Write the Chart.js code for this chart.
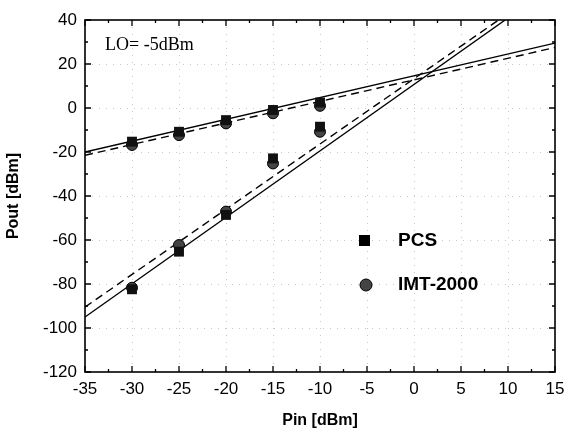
<!DOCTYPE html>
<html><head><meta charset="utf-8">
<script src="https://cdn.jsdelivr.net/npm/chart.js@4/dist/chart.umd.min.js"></script>
<style>html,body{margin:0;padding:0;background:#fff}canvas{display:block}</style>
</head><body>
<canvas id="c" width="566" height="433"></canvas>
<script>
// ---- data ----
const pinLevels = [-30, -25, -20, -15, -10];
const pcsFund   = [-15.3, -10.8, -5.5, -0.9, 2.5];
const pcsIM3    = [-82.4, -65.3, -48.6, -22.9, -8.5];
const imtFund   = [-16.8, -12.3, -7.0, -2.4, 1.0];
const imtIM3    = [-81.7, -62.3, -47.1, -25.2, -10.8];
// fitted lines (end points)
const solidFundX = [-35, 15],  solidFundY = [-20, 29.5];
const dashFundX  = [-35, 15],  dashFundY  = [-21.5, 27.5];
const solidIM3X  = [-35, 9.7], solidIM3Y  = [-95, 40];
const dashIM3X   = [-35, 9],   dashIM3Y   = [-90.5, 40];
const xTicks = [-35, -30, -25, -20, -15, -10, -5, 0, 5, 10, 15];
const yTicks = [-120, -100, -80, -60, -40, -20, 0, 20, 40];
const legendNames = ['PCS', 'IMT-2000'];
const xTitle = 'Pin [dBm]', yTitle = 'Pout [dBm]', note = 'LO= -5dBm';

const pts = (xs, ys) => xs.map((x, i) => ({x, y: ys[i]}));
const lineDs = (xs, ys, dash) => ({type:'line', data: pts(xs, ys), borderColor:'#000', borderWidth:1.4,
  borderDash: dash, pointRadius:0, fill:false, showLine:true, order:5});

const frame = {
  id:'frame',
  beforeDatasetsDraw(chart){
    const {ctx, chartArea:a, scales:{x, y}} = chart;
    ctx.save();
    ctx.strokeStyle = '#c8c8c8'; ctx.lineWidth = 1; ctx.setLineDash([1,6]);
    xTicks.slice(1,-1).forEach(v => { const px = Math.round(x.getPixelForValue(v))+0.5;
      ctx.beginPath(); ctx.moveTo(px, a.top); ctx.lineTo(px, a.bottom); ctx.stroke(); });
    yTicks.slice(1,-1).forEach(v => { const py = Math.round(y.getPixelForValue(v))+0.5;
      ctx.beginPath(); ctx.moveTo(a.left, py); ctx.lineTo(a.right, py); ctx.stroke(); });
    ctx.restore();
  },
  afterDraw(chart){
    const {ctx, chartArea:a, scales:{x, y}} = chart;
    ctx.save();
    ctx.strokeStyle = '#000'; ctx.lineWidth = 1.6; ctx.setLineDash([]);
    ctx.strokeRect(a.left, a.top, a.right - a.left, a.bottom - a.top);
    ctx.lineWidth = 1.3;
    for (let v = -35; v <= 15; v += 2.5) {
      const px = x.getPixelForValue(v), L = (v % 5 === 0) ? 6 : 3;
      ctx.beginPath(); ctx.moveTo(px, a.bottom); ctx.lineTo(px, a.bottom - L);
      ctx.moveTo(px, a.top); ctx.lineTo(px, a.top + L); ctx.stroke();
    }
    for (let v = -120; v <= 40; v += 10) {
      const py = y.getPixelForValue(v), L = (v % 20 === 0) ? 6 : 3;
      ctx.beginPath(); ctx.moveTo(a.left, py); ctx.lineTo(a.left + L, py);
      ctx.moveTo(a.right, py); ctx.lineTo(a.right - L, py); ctx.stroke();
    }
    // note
    ctx.fillStyle = '#000';
    ctx.font = '18px "Liberation Serif", "Times New Roman", serif';
    ctx.textBaseline = 'middle'; ctx.textAlign = 'left';
    ctx.fillText(note, 105, 45);
    // legend
    ctx.font = 'bold 19px "Liberation Sans", Arial, sans-serif';
    ctx.fillRect(359, 235, 11, 11);
    ctx.fillText(legendNames[0], 398, 241);
    ctx.beginPath(); ctx.arc(366, 285, 6, 0, Math.PI*2);
    ctx.fillStyle = '#444'; ctx.fill(); ctx.strokeStyle = '#000'; ctx.lineWidth = 1; ctx.stroke();
    ctx.fillStyle = '#000';
    ctx.fillText(legendNames[1], 398, 285);
    // axis titles
    ctx.font = 'bold 16px "Liberation Sans", Arial, sans-serif';
    ctx.textAlign = 'center';
    ctx.fillText(xTitle, 320, 421);
    ctx.translate(14, 196); ctx.rotate(-Math.PI/2);
    ctx.fillText(yTitle, 0, 0);
    ctx.restore();
  }
};

new Chart(document.getElementById('c'), {
  type: 'scatter',
  data: { datasets: [
    lineDs(solidFundX, solidFundY, []),
    lineDs(dashFundX, dashFundY, [8,5]),
    lineDs(solidIM3X, solidIM3Y, []),
    lineDs(dashIM3X, dashIM3Y, [8,5]),
    {label: legendNames[1], data: pts(pinLevels, imtFund).concat(pts(pinLevels, imtIM3)),
     pointStyle:'circle', pointRadius:5.5, backgroundColor:'#444', borderColor:'#000', borderWidth:1, order:2},
    {label: legendNames[0], data: pts(pinLevels, pcsFund).concat(pts(pinLevels, pcsIM3)),
     pointStyle:'rect', pointRadius:7, backgroundColor:'#111', borderColor:'#000', borderWidth:0, order:1}
  ]},
  options: {
    responsive:false, animation:false, devicePixelRatio:1,
    layout:{padding:{top:20, right:11, left:0, bottom:0}},
    plugins:{legend:{display:false}, tooltip:{enabled:false}},
    scales:{
      x:{type:'linear', min:-35, max:15, afterFit(s){s.height = 61; s.paddingLeft = 0; s.paddingRight = 0;},
         afterBuildTicks(s){ s.ticks = xTicks.map(v => ({value:v})); },
         grid:{display:false, drawTicks:false}, border:{display:false},
         ticks:{color:'#000', padding:7, maxRotation:0, autoSkip:false, font:{family:'"Liberation Sans", Arial, sans-serif', size:17}}},
      y:{type:'linear', min:-120, max:40, afterFit(s){s.width = 85; s.paddingTop = 0; s.paddingBottom = 0;},
         afterBuildTicks(s){ s.ticks = yTicks.map(v => ({value:v})); },
         grid:{display:false, drawTicks:false}, border:{display:false},
         ticks:{color:'#000', padding:8, autoSkip:false, font:{family:'"Liberation Sans", Arial, sans-serif', size:17}}}
    }
  },
  plugins:[frame]
});
</script>
</body></html>
